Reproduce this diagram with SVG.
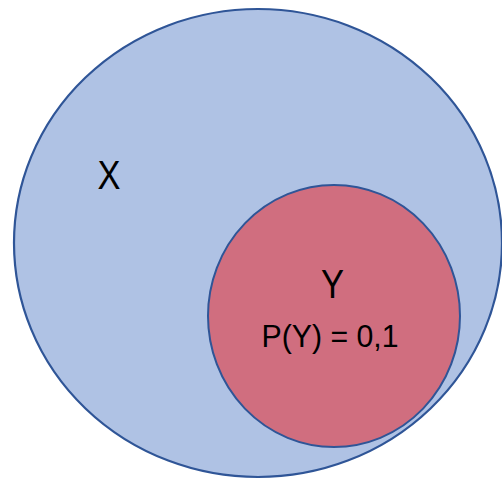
<svg xmlns="http://www.w3.org/2000/svg" width="502" height="479" viewBox="0 0 502 479">
<style>
.lbl{font-family:"Liberation Sans",Arial,sans-serif;fill:#000;}
</style>
<rect width="502" height="479" fill="#fff"/>
<g id="X">
<ellipse cx="258" cy="243" rx="244" ry="234" fill="#AFC2E4" stroke="#2F5597" stroke-width="2.2"/>
<text class="lbl" x="109" y="189" font-size="41" text-anchor="middle" textLength="23" lengthAdjust="spacingAndGlyphs">X</text>
</g>
<g id="Y">
<ellipse cx="334" cy="316" rx="126" ry="131" fill="#D06E7F" stroke="#2F5597" stroke-width="2"/>
<text class="lbl" x="332.5" y="298" font-size="40" text-anchor="middle" textLength="23" lengthAdjust="spacingAndGlyphs">Y</text>
<text class="lbl" x="330" y="347" font-size="31" text-anchor="middle" textLength="137" lengthAdjust="spacingAndGlyphs">P(Y) = 0,1</text>
</g>
<g id="connectors"></g>
</svg>
